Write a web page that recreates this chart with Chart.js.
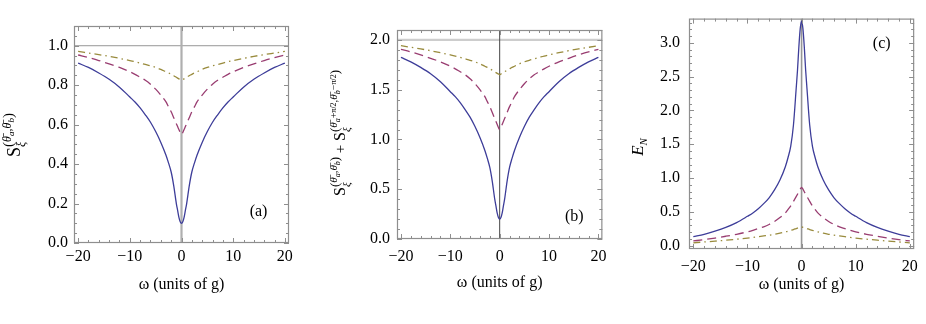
<!DOCTYPE html>
<html><head><meta charset="utf-8">
<script src="https://cdn.jsdelivr.net/npm/chart.js@4.4.0/dist/chart.umd.min.js"></script>
<style>
html,body{margin:0;padding:0;background:#fff;width:926px;height:324px;overflow:hidden}
.p{position:absolute;top:0;height:324px}
canvas{display:block}
</style></head><body>
<div class="p" style="left:0;width:300px"><canvas id="ca" width="300" height="324"></canvas></div>
<div class="p" style="left:310px;width:305px"><canvas id="cb" width="305" height="324"></canvas></div>
<div class="p" style="left:620px;width:306px"><canvas id="cc" width="306" height="324"></canvas></div>
<script>
// ---------- data ----------
const omega = [-20,-18,-16,-14,-12,-10,-9,-8,-7,-6,-5,-4,-3,-2.5,-2,-1.5,-1,-0.75,-0.5,-0.25,0,0.25,0.5,0.75,1,1.5,2,2.5,3,4,5,6,7,8,9,10,12,14,16,18,20];

// panel (a): S_xi^(theta_a, theta_b)
const aSolid  = [0.912,0.89,0.862,0.83,0.79,0.74,0.715,0.685,0.65,0.612,0.565,0.51,0.445,0.405,0.36,0.29,0.20,0.165,0.13,0.108,0.100,0.108,0.13,0.165,0.20,0.29,0.36,0.405,0.445,0.51,0.565,0.612,0.65,0.685,0.715,0.74,0.79,0.83,0.862,0.89,0.912];
const aDashed = [0.953,0.94,0.925,0.908,0.89,0.868,0.855,0.84,0.825,0.805,0.78,0.75,0.715,0.69,0.665,0.635,0.605,0.59,0.575,0.56,0.55,0.56,0.575,0.59,0.605,0.635,0.665,0.69,0.715,0.75,0.78,0.805,0.825,0.84,0.855,0.868,0.89,0.908,0.925,0.94,0.953];
const aDotDash= [0.971,0.963,0.955,0.946,0.936,0.925,0.919,0.912,0.905,0.898,0.89,0.88,0.868,0.862,0.855,0.848,0.84,0.836,0.832,0.829,0.825,0.829,0.832,0.836,0.84,0.848,0.855,0.862,0.868,0.88,0.89,0.898,0.905,0.912,0.919,0.925,0.936,0.946,0.955,0.963,0.971];

// panel (b): sum of the two variances
const bSolid  = [1.824,1.78,1.724,1.66,1.58,1.48,1.43,1.37,1.30,1.224,1.13,1.02,0.89,0.81,0.72,0.58,0.40,0.33,0.26,0.216,0.200,0.216,0.26,0.33,0.40,0.58,0.72,0.81,0.89,1.02,1.13,1.224,1.30,1.37,1.43,1.48,1.58,1.66,1.724,1.78,1.824];
const bDashed = [1.906,1.88,1.85,1.816,1.78,1.736,1.71,1.68,1.65,1.61,1.56,1.50,1.43,1.38,1.33,1.27,1.21,1.18,1.15,1.12,1.10,1.12,1.15,1.18,1.21,1.27,1.33,1.38,1.43,1.50,1.56,1.61,1.65,1.68,1.71,1.736,1.78,1.816,1.85,1.88,1.906];
const bDotDash= [1.942,1.926,1.91,1.892,1.872,1.85,1.838,1.824,1.81,1.796,1.78,1.76,1.736,1.724,1.71,1.696,1.68,1.672,1.664,1.658,1.65,1.658,1.664,1.672,1.68,1.696,1.71,1.724,1.736,1.76,1.78,1.796,1.81,1.824,1.838,1.85,1.872,1.892,1.91,1.926,1.942];

// panel (c): E_N
const cSolid  = [0.133,0.168,0.214,0.269,0.340,0.434,0.484,0.546,0.621,0.708,0.824,0.971,1.168,1.304,1.474,1.786,2.322,2.600,2.943,3.211,3.322,3.211,2.943,2.600,2.322,1.786,1.474,1.304,1.168,0.971,0.824,0.708,0.621,0.546,0.484,0.434,0.340,0.269,0.214,0.168,0.133];
const cDashed = [0.069,0.089,0.112,0.139,0.168,0.204,0.226,0.252,0.278,0.313,0.358,0.415,0.484,0.535,0.589,0.655,0.725,0.761,0.798,0.837,0.862,0.837,0.798,0.761,0.725,0.655,0.589,0.535,0.484,0.415,0.358,0.313,0.278,0.252,0.226,0.204,0.168,0.139,0.112,0.089,0.069];
const cDotDash= [0.042,0.054,0.066,0.080,0.095,0.112,0.122,0.133,0.144,0.155,0.168,0.184,0.204,0.214,0.226,0.238,0.252,0.259,0.266,0.271,0.278,0.271,0.266,0.259,0.252,0.238,0.226,0.214,0.204,0.184,0.168,0.155,0.144,0.133,0.122,0.112,0.095,0.080,0.066,0.054,0.042];

// tick labels
const xTicks  = [-20,-10,0,10,20];
const aYTicks = [0,0.2,0.4,0.6,0.8,1.0];
const bYTicks = [0,0.5,1.0,1.5,2.0];
const cYTicks = [0,0.5,1.0,1.5,2.0,2.5,3.0];
const xTitle  = 'ω (units of g)';
const panelLabels = ['(a)','(b)','(c)'];

// ---------- styling ----------
const BLUE='rgb(61,61,153)', PURPLE='rgb(153,61,113)', OLIVE='rgb(153,139,61)';
const SERIF='"Liberation Serif","DejaVu Serif",serif';
const FRAME='#8e8e8e';

function pts(xs, ys){ return xs.map((x,i)=>({x:x, y:ys[i]})); }

function drawRich(ctx, cx, cy, parts){
  ctx.save();
  ctx.translate(cx, cy);
  ctx.rotate(-Math.PI/2);
  ctx.textBaseline='alphabetic';
  ctx.textAlign='left';
  const fontOf=p=>(p.it?'italic ':'')+p.s+'px '+SERIF;
  let total=0;
  parts.forEach(p=>{ctx.font=fontOf(p); if(!p.noAdv) total+=ctx.measureText(p.t).width;});
  let x=-total/2;
  parts.forEach(p=>{ctx.font=fontOf(p); ctx.fillStyle='#000'; ctx.fillText(p.t, x, p.dy||0); if(!p.noAdv) x+=ctx.measureText(p.t).width;});
  ctx.restore();
}

const framePlugin = {
  id:'frameTicks',
  afterDatasetsDraw(chart, args, o){
    const {ctx, chartArea:a, scales:{x:sx, y:sy}} = chart;
    ctx.save();
    ctx.strokeStyle=FRAME; ctx.lineWidth=1;
    const line=(x1,y1,x2,y2)=>{ctx.beginPath();ctx.moveTo(x1,y1);ctx.lineTo(x2,y2);ctx.stroke();};
    const MAJ=5, MIN=3;
    for(let v=-20; v<=20; v+=2){
      const p=Math.round(sx.getPixelForValue(v))+0.5;
      const L = (v%10===0)?MAJ:MIN;
      line(p,a.bottom,p,a.bottom-L); line(p,a.top,p,a.top+L);
    }
    const n=Math.round(o.yMaxTick/o.yMinor);
    for(let i=0;i<=n;i++){
      const v=i*o.yMinor;
      const isMaj=o.yMajor.some(m=>Math.abs(m-v)<1e-6);
      const p=Math.round(sy.getPixelForValue(v))+0.5;
      const L=isMaj?MAJ:MIN;
      line(a.left,p,a.left+L,p); line(a.right,p,a.right-L,p);
    }
    ctx.lineWidth=1.2;
    ctx.strokeRect(a.left+0.5,a.top+0.5,a.right-a.left-1,a.bottom-a.top-1);
    ctx.fillStyle='#000'; ctx.font='16px '+SERIF; ctx.textAlign='center'; ctx.textBaseline='middle';
    ctx.fillText(o.letter, sx.getPixelForValue(o.letterAt[0]), sy.getPixelForValue(o.letterAt[1]));
    ctx.restore();
    drawRich(ctx, o.titleX, o.titleY, o.titleParts);
  }
};

function makeChart(id, cfg){
  const yMin=cfg.yMin, yMax=cfg.yMax;
  const refs=cfg.refs.map(r=>({
    data: r.kind==='v' ? [{x:0,y:yMin},{x:0,y:yMax}] : [{x:-20.8,y:r.v},{x:20.8,y:r.v}],
    borderColor:r.c, borderWidth:r.w, pointRadius:0, order:10, tension:0
  }));
  const series=[
    {data:pts(omega,cfg.s[0]), borderColor:BLUE, borderWidth:1.3},
    {data:pts(omega,cfg.s[1]), borderColor:PURPLE, borderWidth:1.3, borderDash:[9,5]},
    {data:pts(omega,cfg.s[2]), borderColor:OLIVE, borderWidth:1.3, borderDash:[7,4,1.5,4]}
  ].map((d,i)=>Object.assign(d,{pointRadius:0, cubicInterpolationMode:'monotone', order:i}));
  return new Chart(document.getElementById(id), {
    type:'line',
    data:{datasets: series.concat(refs)},
    options:{
      responsive:false, animation:false, devicePixelRatio:1,
      layout:{padding:cfg.pad},
      plugins:{legend:{display:false}, tooltip:{enabled:false},
        frameTicks:{yMinor:cfg.yMinor, yMajor:cfg.yTicks, yMaxTick:cfg.yMaxTick, letter:cfg.letter, letterAt:cfg.letterAt,
                    titleX:cfg.titleX, titleY:cfg.titleY, titleParts:cfg.titleParts}},
      scales:{
        x:{type:'linear', min:-20.8, max:20.8,
           grid:{display:false, drawTicks:false}, border:{display:false},
           afterBuildTicks:s=>{s.ticks=xTicks.map(v=>({value:v}));},
           afterFit:s=>{s.height=cfg.xH;},
           ticks:{padding:cfg.xPad, color:'#000', font:{family:SERIF,size:16}, maxRotation:0,
                  callback:v=>String(v).replace('-','\u2212')},
           title:{display:true, text:xTitle, color:'#000', font:{family:SERIF,size:16}, padding:{top:0,bottom:cfg.tPad}}},
        y:{type:'linear', min:yMin, max:yMax,
           grid:{display:false, drawTicks:false}, border:{display:false},
           afterBuildTicks:s=>{s.ticks=cfg.yTicks.map(v=>({value:v}));},
           afterFit:s=>{s.width=cfg.yW;},
           ticks:{padding:cfg.yPad, color:'#000', font:{family:SERIF,size:16},
                  callback:v=>Number(v).toFixed(1)}}
      }
    },
    plugins:[framePlugin]
  });
}

makeChart('ca',{
  s:[aSolid,aDashed,aDotDash], yMin:0, yMax:1.1, yTicks:aYTicks, yMinor:0.05, yMaxTick:1.1,
  pad:{left:0,right:11,top:26,bottom:0}, yW:74, xH:81, xPad:4.5, yPad:6, tPad:29.5,
  refs:[{kind:'v',c:'rgb(175,175,175)',w:2.2},{kind:'h',v:1.0,c:'rgb(150,150,150)',w:1}],
  letter:panelLabels[0], letterAt:[14.9,0.156],
  titleX:20, titleY:135,
  titleParts:[{t:'S',s:18},{t:'ξ',s:12,dy:5,it:1,noAdv:1},{t:'(',s:15,dy:-7},{t:'θ̄',s:12,dy:-9,it:1},{t:'a',s:9,dy:-6,it:1},{t:',',s:12,dy:-9},{t:'θ̄',s:12,dy:-9,it:1},{t:'b',s:9,dy:-6,it:1},{t:')',s:15,dy:-7}]
});
makeChart('cb',{
  s:[bSolid,bDashed,bDotDash], yMin:0, yMax:2.1, yTicks:bYTicks, yMinor:0.1, yMaxTick:2.1,
  pad:{left:0,right:10,top:30,bottom:0}, yW:87, xH:85, xPad:8.4, yPad:7, tPad:31.5,
  refs:[{kind:'v',c:'rgb(70,70,70)',w:1},{kind:'h',v:2.0,c:'rgb(205,205,205)',w:2.2}],
  letter:panelLabels[1], letterAt:[15.1,0.22],
  titleX:35, titleY:133,
  titleParts:[{t:'S',s:16},{t:'ξ',s:11,dy:5,it:1,noAdv:1},{t:'(',s:13,dy:-6},{t:'θ̄',s:11,dy:-8,it:1},{t:'a',s:8,dy:-5,it:1},{t:',',s:11,dy:-8},{t:'θ̄',s:11,dy:-8,it:1},{t:'b',s:8,dy:-5,it:1},{t:')',s:13,dy:-6},
              {t:' + ',s:15},
              {t:'S',s:16},{t:'ξ',s:11,dy:5,it:1,noAdv:1},{t:'(',s:13,dy:-6},{t:'θ̄',s:11,dy:-8,it:1},{t:'a',s:8,dy:-5,it:1},{t:'+',s:10,dy:-8},{t:'π/2',s:8,dy:-9},{t:',',s:11,dy:-8},{t:'θ̄',s:11,dy:-8,it:1},{t:'b',s:8,dy:-5,it:1},{t:'−',s:10,dy:-8},{t:'π/2',s:8,dy:-9},{t:')',s:13,dy:-6}]
});
makeChart('cc',{
  s:[cSolid,cDashed,cDotDash], yMin:-0.05, yMax:3.36, yTicks:cYTicks, yMinor:0.1, yMaxTick:3.3,
  pad:{left:0,right:4,top:18,bottom:0}, yW:69, xH:75, xPad:8.1, yPad:9, tPad:29.5,
  refs:[{kind:'v',c:'rgb(150,150,150)',w:1.6}],
  letter:panelLabels[2], letterAt:[14.8,2.99],
  titleX:23, titleY:147,
  titleParts:[{t:'E',s:17,it:1},{t:'N',s:11,dy:4,it:1}]
});
</script>
</body></html>
